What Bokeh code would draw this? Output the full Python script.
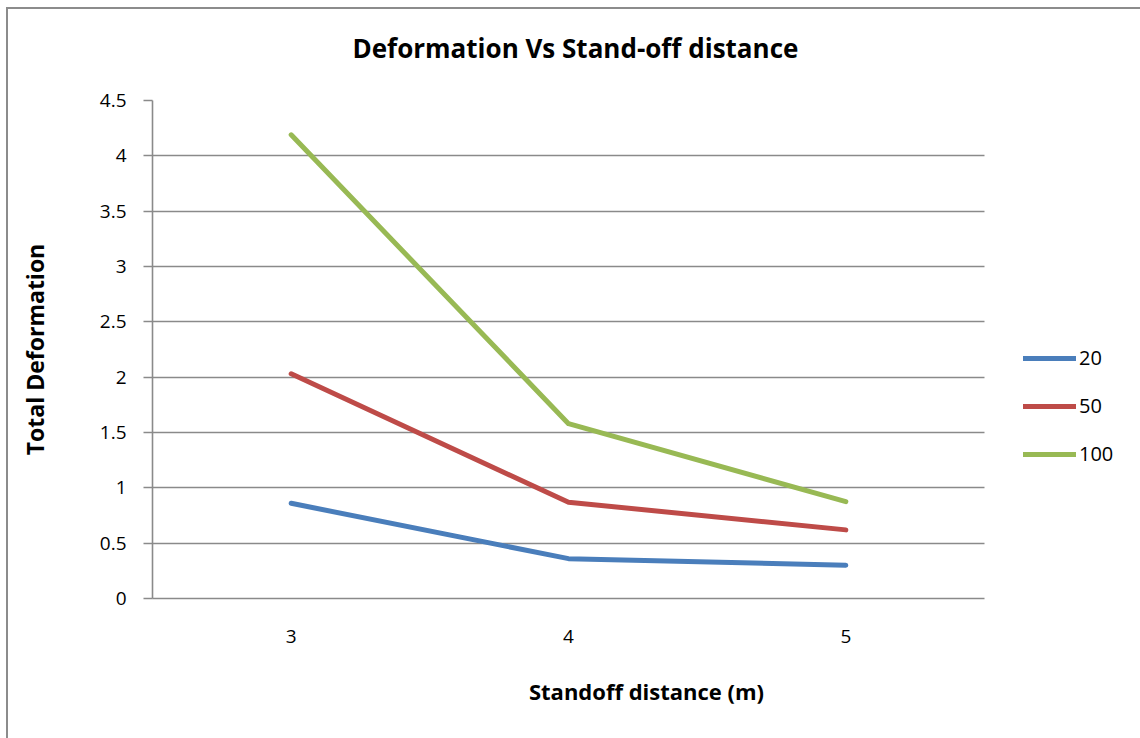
from bokeh.plotting import figure
from bokeh.models import Range1d, FixedTicker, Legend, LegendItem, Title, BoxAnnotation
from bokeh.embed import file_html
from bokeh.resources import INLINE

# ---- data ----
x_vals = [3, 4, 5]
x_tick_labels = ["3", "4", "5"]
series_names = ["20", "50", "100"]
d20 = [0.86, 0.36, 0.30]
d50 = [2.03, 0.87, 0.62]
d100 = [4.19, 1.58, 0.875]
colors = ["#4A7EBB", "#BE4B48", "#98B954"]
y_ticks = [0, 0.5, 1, 1.5, 2, 2.5, 3, 3.5, 4, 4.5]
y_tick_labels = ["0", "0.5", "1", "1.5", "2", "2.5", "3", "3.5", "4", "4.5"]

title_text = "Deformation Vs Stand-off distance"
x_title = "Standoff distance (m)"
y_title = "Total Deformation"

FONT = "Open Sans"
GRID = "#8a8a8a"
FRAME_COLOR = "#8c8c8c"

# plot area: x from 2.5 to 5.5 occupies 832 px; extra room on the right for the legend
x_lo, x_hi = 2.5, 5.5
px_per_unit = 832 / 3.0
x_end = x_hi + 156 / px_per_unit

p = figure(
    width=1140, height=738,
    x_range=Range1d(x_lo, x_end),
    y_range=Range1d(0, 4.5),
    output_backend="svg", toolbar_location=None,
    min_border_left=152, min_border_right=0, min_border_top=100, min_border_bottom=140,
)
# chart-area frame (left and top edges visible), drawn behind a transparent canvas border
p.styles = {
    "background-color": "white",
    "background-image": f"linear-gradient({FRAME_COLOR}, {FRAME_COLOR}), linear-gradient({FRAME_COLOR}, {FRAME_COLOR})",
    "background-size": "2px 100%, 100% 2px",
    "background-position": "6px 7px, 6px 7px",
    "background-repeat": "no-repeat",
}
p.outline_line_color = None
p.background_fill_color = "white"
p.border_fill_alpha = 0

t = Title(text=title_text, align="left", text_font=FONT, text_font_size="26px",
          text_font_style="bold", text_color="black", standoff=50, offset=200,
          padding=(0, 0, 0, 10))
p.add_layout(t, "above")

# y axis
p.yaxis.ticker = FixedTicker(ticks=y_ticks)
p.yaxis.major_label_overrides = {float(k): v for k, v in zip(y_ticks, y_tick_labels)}
p.yaxis.axis_line_color = GRID
p.yaxis.axis_line_width = 1.6
p.yaxis.major_tick_line_color = GRID
p.yaxis.major_tick_line_width = 1.6
p.yaxis.major_tick_out = 9
p.yaxis.major_tick_in = 0
p.yaxis.minor_tick_line_color = None
p.yaxis.major_label_standoff = 17
p.yaxis.major_label_text_font = FONT
p.yaxis.major_label_text_font_size = "19px"
p.yaxis.major_label_text_color = "black"
p.yaxis.axis_label = y_title
p.yaxis.axis_label_text_font = FONT
p.yaxis.axis_label_text_font_size = "23px"
p.yaxis.axis_label_text_font_style = "bold"
p.yaxis.axis_label_text_color = "black"
p.yaxis.axis_label_standoff = 46

# x axis
p.xaxis.ticker = FixedTicker(ticks=x_vals)
p.xaxis.major_label_overrides = {int(k): v for k, v in zip(x_vals, x_tick_labels)}
p.xaxis.bounds = (x_lo, x_hi)
p.xaxis.axis_line_color = GRID
p.xaxis.axis_line_width = 1.6
p.xaxis.major_tick_line_color = None
p.xaxis.minor_tick_line_color = None
p.xaxis.major_tick_out = 0
p.xaxis.major_tick_in = 0
p.xaxis.major_label_standoff = 31
p.xaxis.major_label_text_font = FONT
p.xaxis.major_label_text_font_size = "19px"
p.xaxis.major_label_text_color = "black"
p.xaxis.axis_label = x_title
p.xaxis.axis_label_text_font = FONT
p.xaxis.axis_label_text_font_size = "22px"
p.xaxis.axis_label_text_font_style = "bold"
p.xaxis.axis_label_text_color = "black"
p.xaxis.axis_label_standoff = 30

p.xgrid.grid_line_color = None
p.ygrid.grid_line_color = GRID
p.ygrid.grid_line_width = 1.6

# blank out the grid beyond the plot area (legend zone)
p.add_layout(BoxAnnotation(left=x_hi, fill_color="white", fill_alpha=1.0, line_color=None,
                           level="underlay"))

renderers = []
for name, vals, c in zip(series_names, [d20, d50, d100], colors):
    r = p.line(x_vals, vals, line_color=c, line_width=5, line_cap="round", line_join="round")
    renderers.append((name, r))

legend = Legend(items=[LegendItem(label=n, renderers=[r]) for n, r in renderers],
                location=(871, 131), orientation="vertical",
                border_line_color=None, background_fill_alpha=0,
                padding=0, margin=0, spacing=21, glyph_width=53, glyph_height=20,
                label_height=20, label_standoff=3,
                label_text_font=FONT, label_text_font_size="20px", label_text_color="black")
p.add_layout(legend)

open("out.html", "w").write(file_html(p, INLINE))
